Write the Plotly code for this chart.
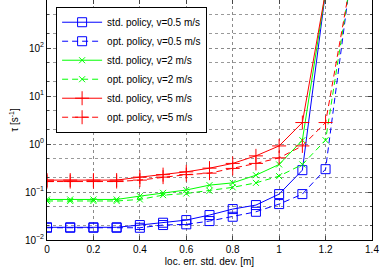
import plotly.graph_objects as go

x_std = [0, 0.1, 0.2, 0.3, 0.4, 0.5, 0.6, 0.7, 0.8, 0.9, 1.0, 1.1, 1.2]
x_opt = [0, 0.1, 0.2, 0.3, 0.4, 0.5, 0.6, 0.7, 0.8, 0.9, 1.0, 1.1, 1.2, 1.3]

blue_std = [0.0184, 0.0184, 0.0184, 0.0184, 0.0205, 0.0229, 0.026, 0.0331, 0.0441, 0.0534, 0.0904, 0.285, 1500]
blue_opt = [0.018, 0.018, 0.018, 0.018, 0.018, 0.0205, 0.0212, 0.0248, 0.0305, 0.0387, 0.056, 0.0904, 0.299, 1500]
green_std = [0.070, 0.070, 0.070, 0.070, 0.082, 0.096, 0.11, 0.139, 0.155, 0.224, 0.375, 1.2, 1500]
green_opt = [0.065, 0.065, 0.065, 0.065, 0.070, 0.086, 0.093, 0.106, 0.125, 0.155, 0.214, 0.375, 1.2, 1500]
red_std = [0.177, 0.177, 0.177, 0.177, 0.204, 0.23, 0.263, 0.314, 0.394, 0.566, 0.912, 2.8, 1500]
red_opt = [0.165, 0.165, 0.165, 0.165, 0.177, 0.204, 0.23, 0.247, 0.31, 0.394, 0.514, 0.912, 2.8, 1500]

names = ["std. policy, v=0.5 m/s", "opt. policy, v=0.5 m/s",
         "std. policy, v=2 m/s", "opt. policy, v=2 m/s",
         "std. policy, v=5 m/s", "opt. policy, v=5 m/s"]

x_ticks = [0, 0.2, 0.4, 0.6, 0.8, 1.0, 1.2, 1.4]
x_tick_text = ["0", "0.2", "0.4", "0.6", "0.8", "1", "1.2", "1.4"]
y_ticks = [0.01, 0.1, 1, 10, 100]
y_tick_text = ["10<sup>−2</sup>", "10<sup>−1</sup>", "10<sup>0</sup>", "10<sup>1</sup>", "10<sup>2</sup>"]

series = [
    (x_std, blue_std, "#0000ff", "solid", "square-open", 9),
    (x_opt, blue_opt, "#0000ff", "6px,4px", "square-open", 9),
    (x_std, green_std, "#00ff00", "solid", "x-thin-open", 6),
    (x_opt, green_opt, "#00ff00", "6px,4px", "x-thin-open", 6),
    (x_std, red_std, "#ff0000", "solid", "cross-thin-open", 10),
    (x_opt, red_opt, "#ff0000", "6px,4px", "cross-thin-open", 10),
]

fig = go.Figure()
for (xs, ys, col, dash, sym, sz), nm in zip(series, names):
    fig.add_trace(go.Scatter(
        x=xs, y=ys, name=nm, mode="lines+markers",
        line=dict(color=col, width=1, dash=dash),
        marker=dict(symbol=sym, size=sz, color=col, line=dict(color=col, width=1)),
        cliponaxis=True,
    ))

grid = dict(showgrid=True, gridcolor="#8a8a8a", griddash="dot", gridwidth=1)

fig.update_layout(
    width=382, height=269,
    margin=dict(l=47, r=10, t=0, b=29),
    paper_bgcolor="white", plot_bgcolor="white",
    font=dict(family="Liberation Sans, Arial, sans-serif", size=10, color="black"),
    showlegend=True,
    legend=dict(x=0.028, y=0.972, xanchor="left", yanchor="top",
                bgcolor="white", bordercolor="black", borderwidth=1,
                font=dict(size=10), itemwidth=40, tracegroupgap=0),
    xaxis=dict(range=[0, 1.4], tickvals=x_ticks, ticktext=x_tick_text,
               ticks="inside", ticklen=4, mirror="ticks", showline=True,
               linecolor="black", linewidth=1, zeroline=False, automargin=False,
               title=dict(text="loc. err. std. dev. [m]", standoff=3, font=dict(size=10)),
               **grid),
    yaxis=dict(type="log", range=[-2, 3], tickvals=y_ticks, ticktext=y_tick_text,
               ticks="inside", ticklen=4, mirror="ticks", showline=True,
               linecolor="black", linewidth=1, zeroline=False, automargin=False,
               minor=dict(ticks="inside", ticklen=2, showgrid=True,
                          gridcolor="#9a9a9a", griddash="dot", gridwidth=1),
               title=dict(text="τ [s<sup>-1</sup>]", standoff=4, font=dict(size=10)),
               **grid),
)

fig.write_html("out.html", config={"displayModeBar": False},
               post_script="document.body.style.margin='0';document.body.style.padding='0';")
